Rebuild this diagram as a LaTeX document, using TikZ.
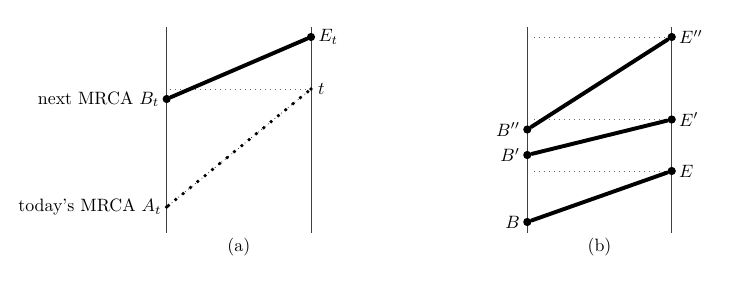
\documentclass[tikz,border=0pt]{standalone}
\usetikzlibrary{positioning}

\begin{document}
\begin{tikzpicture}[
    x=0.56pt, y=-0.56pt,
    axis/.style={draw=black!75, line width=0.5pt},
    bigdot/.style={circle, fill=black, inner sep=0pt, minimum size=4.6pt},
    smalldot/.style={circle, fill=black, inner sep=0pt, minimum size=2.2pt},
    branch/.style={line width=2.2pt, line cap=round},
    guide/.style={draw=black!60, line width=0.4pt, dash pattern=on 0.4pt off 2.4pt},
    jump/.style={line width=2.1pt, line cap=round, dash pattern=on 0pt off 5.3pt},
    every label/.style={inner sep=1.5pt}
]
\useasboundingbox (0,0) rectangle (736,285);

% ==================== Panel (a) ====================
\coordinate (aTopL) at (166.7, 27);
\coordinate (aBotL) at (166.7, 233);
\coordinate (aTopR) at (311, 27);
\coordinate (aBotR) at (311, 233);
\draw[axis] (aTopL) -- (aBotL);
\draw[axis] (aTopR) -- (aBotR);

\node[bigdot, label=right:$E_t$] (Et) at (311, 37) {};
\node[bigdot, label=left:next MRCA $B_t$] (Bt) at (166.7, 99) {};
\node[smalldot, label={[xshift=1pt]right:$t$}] (t) at (311, 89) {};
\node[smalldot, label=left:today's MRCA $A_t$] (At) at (166.7, 207) {};

\draw[guide] (Bt.north east |- t) -- (t.west);
\draw[branch] (Bt) -- (Et);
\draw[thin, dotted] (At) -- (t);
\draw[jump] (At) -- (t);

\node (capA) at (238.8, 247) {(a)};

% ==================== Panel (b) ====================
\coordinate (bTopL) at (527.3, 27);
\coordinate (bBotL) at (527.3, 233);
\coordinate (bTopR) at (671.7, 27);
\coordinate (bBotR) at (671.7, 233);
\draw[axis] (bTopL) -- (bBotL);
\draw[axis] (bTopR) -- (bBotR);

\node[bigdot, label=right:$E''$] (Epp) at (671.7, 37) {};
\node[bigdot, label=left:$B''$] (Bpp) at (527.3, 129.5) {};
\node[bigdot, label=right:$E'$] (Ep) at (671.7, 119.5) {};
\node[bigdot, label=left:$B'$] (Bp) at (527.3, 155) {};
\node[bigdot, label=right:$E$] (E) at (671.7, 171) {};
\node[bigdot, label=left:$B$] (B) at (527.3, 222) {};

\draw[guide] ([xshift=4pt]bTopL |- Epp) -- (Epp.west);
\draw[guide] ([xshift=4pt]bTopL |- Ep) -- (Ep.west);
\draw[guide] ([xshift=4pt]bTopL |- E) -- (E.west);

\draw[branch] (Bpp) -- (Epp);
\draw[branch] (Bp) -- (Ep);
\draw[branch] (B) -- (E);

\node (capB) at (599.5, 247) {(b)};

\end{tikzpicture}
\end{document}
